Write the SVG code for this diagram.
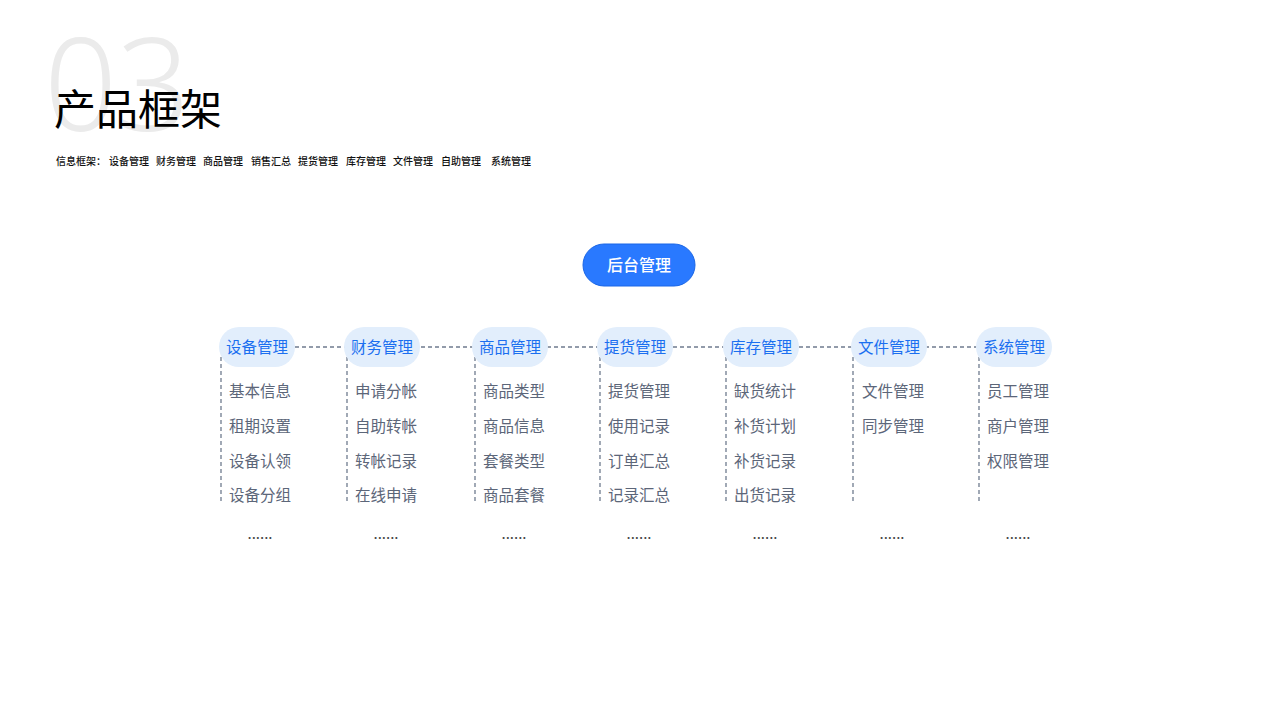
<svg xmlns="http://www.w3.org/2000/svg" width="1280" height="720" viewBox="0 0 1280 720">
<style>
text{font-family:"Noto Sans CJK SC","Noto Sans",sans-serif}
.big{font-family:"Noto Sans","Noto Sans CJK SC",sans-serif;font-size:128px;font-weight:300;fill:#ebebeb}
.title{font-size:42px;fill:#000}
.sub{font-size:10px;font-weight:500;fill:#111}
.cat rect{fill:#e2eefc}
.cat text{font-size:15.5px;fill:#1b6ff0;text-anchor:middle}
.item{font-size:15.5px;fill:#5c6679}
.dots{font-size:15px;fill:#444;text-anchor:middle}
.dash{stroke:#6f7b8e;stroke-width:1.3;stroke-dasharray:4 3;fill:none}
</style>
<rect width="1280" height="720" fill="#fff"/>
<text class="big" x="44" y="131">03</text>
<text class="title" x="54" y="125">产品框架</text>
<g id="subtitle">
<text class="sub" x="56" y="165">信息框架：</text>
<text class="sub" x="109" y="165">设备管理</text>
<text class="sub" x="156" y="165">财务管理</text>
<text class="sub" x="203" y="165">商品管理</text>
<text class="sub" x="251" y="165">销售汇总</text>
<text class="sub" x="298" y="165">提货管理</text>
<text class="sub" x="346" y="165">库存管理</text>
<text class="sub" x="393" y="165">文件管理</text>
<text class="sub" x="441" y="165">自助管理</text>
<text class="sub" x="491" y="165">系统管理</text>
</g>
<g id="connectors">
<line class="dash" x1="295" y1="347" x2="976" y2="347"/>
<line class="dash" x1="221" y1="357" x2="221" y2="503"/>
<line class="dash" x1="347" y1="357" x2="347" y2="503"/>
<line class="dash" x1="475" y1="357" x2="475" y2="503"/>
<line class="dash" x1="600" y1="357" x2="600" y2="503"/>
<line class="dash" x1="726" y1="357" x2="726" y2="503"/>
<line class="dash" x1="853" y1="357" x2="853" y2="503"/>
<line class="dash" x1="979" y1="357" x2="979" y2="503"/>
</g>
<g id="root">
<rect x="583" y="244" width="112" height="42" rx="21" fill="#2979ff" stroke="#1a66e6" stroke-width="1"/>
<text x="639" y="270.5" font-size="16" font-weight="500" fill="#fff" text-anchor="middle">后台管理</text>
</g>
<g id="cat-shebei" class="cat">
<rect x="219" y="327" width="76" height="40" rx="20"/>
<text x="257" y="353">设备管理</text>
</g>
<g id="cat-caiwu" class="cat">
<rect x="344" y="327" width="76" height="40" rx="20"/>
<text x="382" y="353">财务管理</text>
</g>
<g id="cat-shangpin" class="cat">
<rect x="472" y="327" width="76" height="40" rx="20"/>
<text x="510" y="353">商品管理</text>
</g>
<g id="cat-tihuo" class="cat">
<rect x="597" y="327" width="76" height="40" rx="20"/>
<text x="635" y="353">提货管理</text>
</g>
<g id="cat-kucun" class="cat">
<rect x="723" y="327" width="76" height="40" rx="20"/>
<text x="761" y="353">库存管理</text>
</g>
<g id="cat-wenjian" class="cat">
<rect x="851" y="327" width="76" height="40" rx="20"/>
<text x="889" y="353">文件管理</text>
</g>
<g id="cat-xitong" class="cat">
<rect x="976" y="327" width="76" height="40" rx="20"/>
<text x="1014" y="353">系统管理</text>
</g>
<g id="items-shebei">
<text class="item" x="229" y="397">基本信息</text>
<text class="item" x="229" y="432">租期设置</text>
<text class="item" x="229" y="467">设备认领</text>
<text class="item" x="229" y="501">设备分组</text>
<text class="dots" x="260" y="539">......</text>
</g>
<g id="items-caiwu">
<text class="item" x="355" y="397">申请分帐</text>
<text class="item" x="355" y="432">自助转帐</text>
<text class="item" x="355" y="467">转帐记录</text>
<text class="item" x="355" y="501">在线申请</text>
<text class="dots" x="386" y="539">......</text>
</g>
<g id="items-shangpin">
<text class="item" x="483" y="397">商品类型</text>
<text class="item" x="483" y="432">商品信息</text>
<text class="item" x="483" y="467">套餐类型</text>
<text class="item" x="483" y="501">商品套餐</text>
<text class="dots" x="514" y="539">......</text>
</g>
<g id="items-tihuo">
<text class="item" x="608" y="397">提货管理</text>
<text class="item" x="608" y="432">使用记录</text>
<text class="item" x="608" y="467">订单汇总</text>
<text class="item" x="608" y="501">记录汇总</text>
<text class="dots" x="639" y="539">......</text>
</g>
<g id="items-kucun">
<text class="item" x="734" y="397">缺货统计</text>
<text class="item" x="734" y="432">补货计划</text>
<text class="item" x="734" y="467">补货记录</text>
<text class="item" x="734" y="501">出货记录</text>
<text class="dots" x="765" y="539">......</text>
</g>
<g id="items-wenjian">
<text class="item" x="862" y="397">文件管理</text>
<text class="item" x="862" y="432">同步管理</text>
<text class="dots" x="892" y="539">......</text>
</g>
<g id="items-xitong">
<text class="item" x="987" y="397">员工管理</text>
<text class="item" x="987" y="432">商户管理</text>
<text class="item" x="987" y="467">权限管理</text>
<text class="dots" x="1018" y="539">......</text>
</g>
</svg>
